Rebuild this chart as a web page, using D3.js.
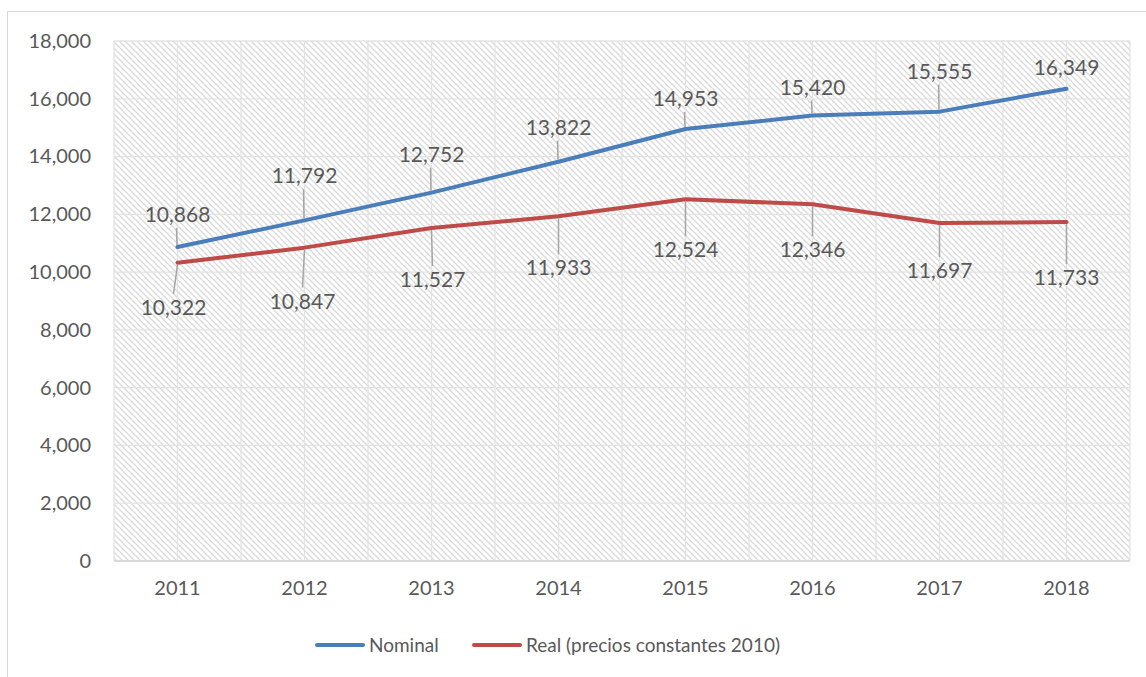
<!DOCTYPE html>
<html>
<head>
<meta charset="utf-8">
<script src="https://cdn.jsdelivr.net/npm/d3@7"></script>
<style>
  body { margin: 0; background: #fff; }
  text { font-family: Lato, "Open Sans", sans-serif; fill: #595959; }
</style>
</head>
<body>
<div id="chart"></div>
<script>
// data
var years = ["2011", "2012", "2013", "2014", "2015", "2016", "2017", "2018"];
var nominal = [10868, 11792, 12752, 13822, 14953, 15420, 15555, 16349];
var real = [10322, 10847, 11527, 11933, 12524, 12346, 11697, 11733];
var yTicks = [0, 2000, 4000, 6000, 8000, 10000, 12000, 14000, 16000, 18000];
var seriesNames = ["Nominal", "Real (precios constantes 2010)"];

function drawChart() {
  var w = 1146;
  var h = 677;
  var margin = {top: 41, right: 16, bottom: 116, left: 114};

  var svg = d3.select("#chart")
    .append("svg")
    .attr("width", w)
    .attr("height", h);

  // hatch pattern for the plot area
  var pat = svg.append("defs").append("pattern")
    .attr("id", "hatch")
    .attr("patternUnits", "userSpaceOnUse")
    .attr("width", 6)
    .attr("height", 6);
  pat.append("path")
    .attr("d", "M-1,-1 L7,7 M-4,2 L2,8 M4,-2 L8,2")
    .attr("stroke", "#d9d9d9")
    .attr("stroke-width", 1.3);

  // chart border
  svg.append("rect")
    .attr("x", 7.5).attr("y", 11.5)
    .attr("width", 1160).attr("height", 700)
    .attr("fill", "none")
    .attr("stroke", "#d9d9d9")
    .attr("stroke-width", 1);

  var xScale = d3.scaleBand()
    .domain(years)
    .range([margin.left, w - margin.right]);

  var yScale = d3.scaleLinear()
    .domain([0, 18000])
    .range([h - margin.bottom, margin.top]);

  var x = function (i) { return xScale(years[i]) + xScale.bandwidth() / 2; };

  svg.append("rect")
    .attr("x", margin.left)
    .attr("y", margin.top)
    .attr("width", w - margin.left - margin.right)
    .attr("height", h - margin.top - margin.bottom)
    .attr("fill", "url(#hatch)");

  // vertical gridlines every half band
  var vLines = [];
  years.forEach(function (d) {
    vLines.push(xScale(d));
    vLines.push(xScale(d) + xScale.bandwidth() / 2);
  });
  vLines.push(w - margin.right);
  svg.append("g").selectAll("line")
    .data(vLines)
    .enter()
    .append("line")
    .attr("x1", function (d) { return d; })
    .attr("x2", function (d) { return d; })
    .attr("y1", margin.top)
    .attr("y2", h - margin.bottom)
    .attr("stroke", "#e3e3e3")
    .attr("stroke-width", 1.3);

  // horizontal gridlines
  svg.append("g").selectAll("line")
    .data(yTicks)
    .enter()
    .append("line")
    .attr("x1", margin.left)
    .attr("x2", w - margin.right)
    .attr("y1", function (d) { return yScale(d); })
    .attr("y2", function (d) { return yScale(d); })
    .attr("stroke", function (d) { return d === 0 ? "#d9d9d9" : "#e3e3e3"; })
    .attr("stroke-width", function (d) { return d === 0 ? 2 : 1.3; });

  // y axis
  var yAxis = svg.append("g")
    .attr("transform", "translate(" + margin.left + ",0)")
    .call(d3.axisLeft(yScale).tickValues(yTicks).tickSize(0).tickPadding(23).tickFormat(d3.format(",")));
  yAxis.select(".domain").remove();
  yAxis.selectAll("text").style("font-size", "20px").attr("fill", "#595959");

  // x axis
  var xAxis = svg.append("g")
    .attr("transform", "translate(0," + (h - margin.bottom) + ")")
    .call(d3.axisBottom(xScale).tickSize(0).tickPadding(20));
  xAxis.select(".domain").remove();
  xAxis.selectAll("text").style("font-size", "20px").attr("fill", "#595959");

  var line = d3.line()
    .x(function (d, i) { return x(i); })
    .y(function (d) { return yScale(d); });

  var colors = ["#4A7EBB", "#BE4B48"];
  [nominal, real].forEach(function (s, k) {
    svg.append("path")
      .datum(s)
      .attr("fill", "none")
      .attr("stroke", colors[k])
      .attr("stroke-width", 4)
      .attr("stroke-linejoin", "round")
      .attr("stroke-linecap", "round")
      .attr("d", line);
  });

  // data labels with leader lines
  var fmt = d3.format(",");
  var nomOff = [25, 37, 31, 27, 23, 21, 33, 14];
  var realOff = [52, 61, 59, 59, 58, 53, 55, 63];
  var realDx = [-4, -2, 1, 0, 0, 0, 0, 0];

  var nomG = svg.append("g");
  nominal.forEach(function (d, i) {
    var px = x(i), py = yScale(d);
    if (nomOff[i] > 18) {
      nomG.append("line")
        .attr("x1", px - 0.5).attr("x2", px - 1)
        .attr("y1", py - 2).attr("y2", py - nomOff[i] + 6)
        .attr("stroke", "#a6a6a6").attr("stroke-width", 1.5);
    }
    nomG.append("text")
      .attr("x", px)
      .attr("y", py - nomOff[i])
      .attr("text-anchor", "middle")
      .style("font-size", "21px")
      .text(fmt(d));
  });

  var realG = svg.append("g");
  real.forEach(function (d, i) {
    var px = x(i), py = yScale(d);
    realG.append("line")
      .attr("x1", px).attr("x2", px + realDx[i])
      .attr("y1", py + 2).attr("y2", py + realOff[i] - 21)
      .attr("stroke", "#a6a6a6").attr("stroke-width", 1.5);
    realG.append("text")
      .attr("x", px + realDx[i])
      .attr("y", py + realOff[i])
      .attr("text-anchor", "middle")
      .style("font-size", "21px")
      .text(fmt(d));
  });

  // legend
  var legendX = [317, 474];
  var legend = svg.selectAll(".legend")
    .data(seriesNames)
    .enter()
    .append("g")
    .attr("class", "legend")
    .attr("transform", function (d, i) { return "translate(" + legendX[i] + ",645)"; });
  legend.append("line")
    .attr("x1", 0).attr("x2", 46)
    .attr("stroke", function (d, i) { return colors[i]; })
    .attr("stroke-width", 4)
    .attr("stroke-linecap", "round");
  legend.append("text")
    .attr("x", 52)
    .attr("dy", "0.35em")
    .style("font-size", "19px")
    .text(function (d) { return d; });
}

window.onload = function () {
  drawChart();
};
</script>
</body>
</html>
